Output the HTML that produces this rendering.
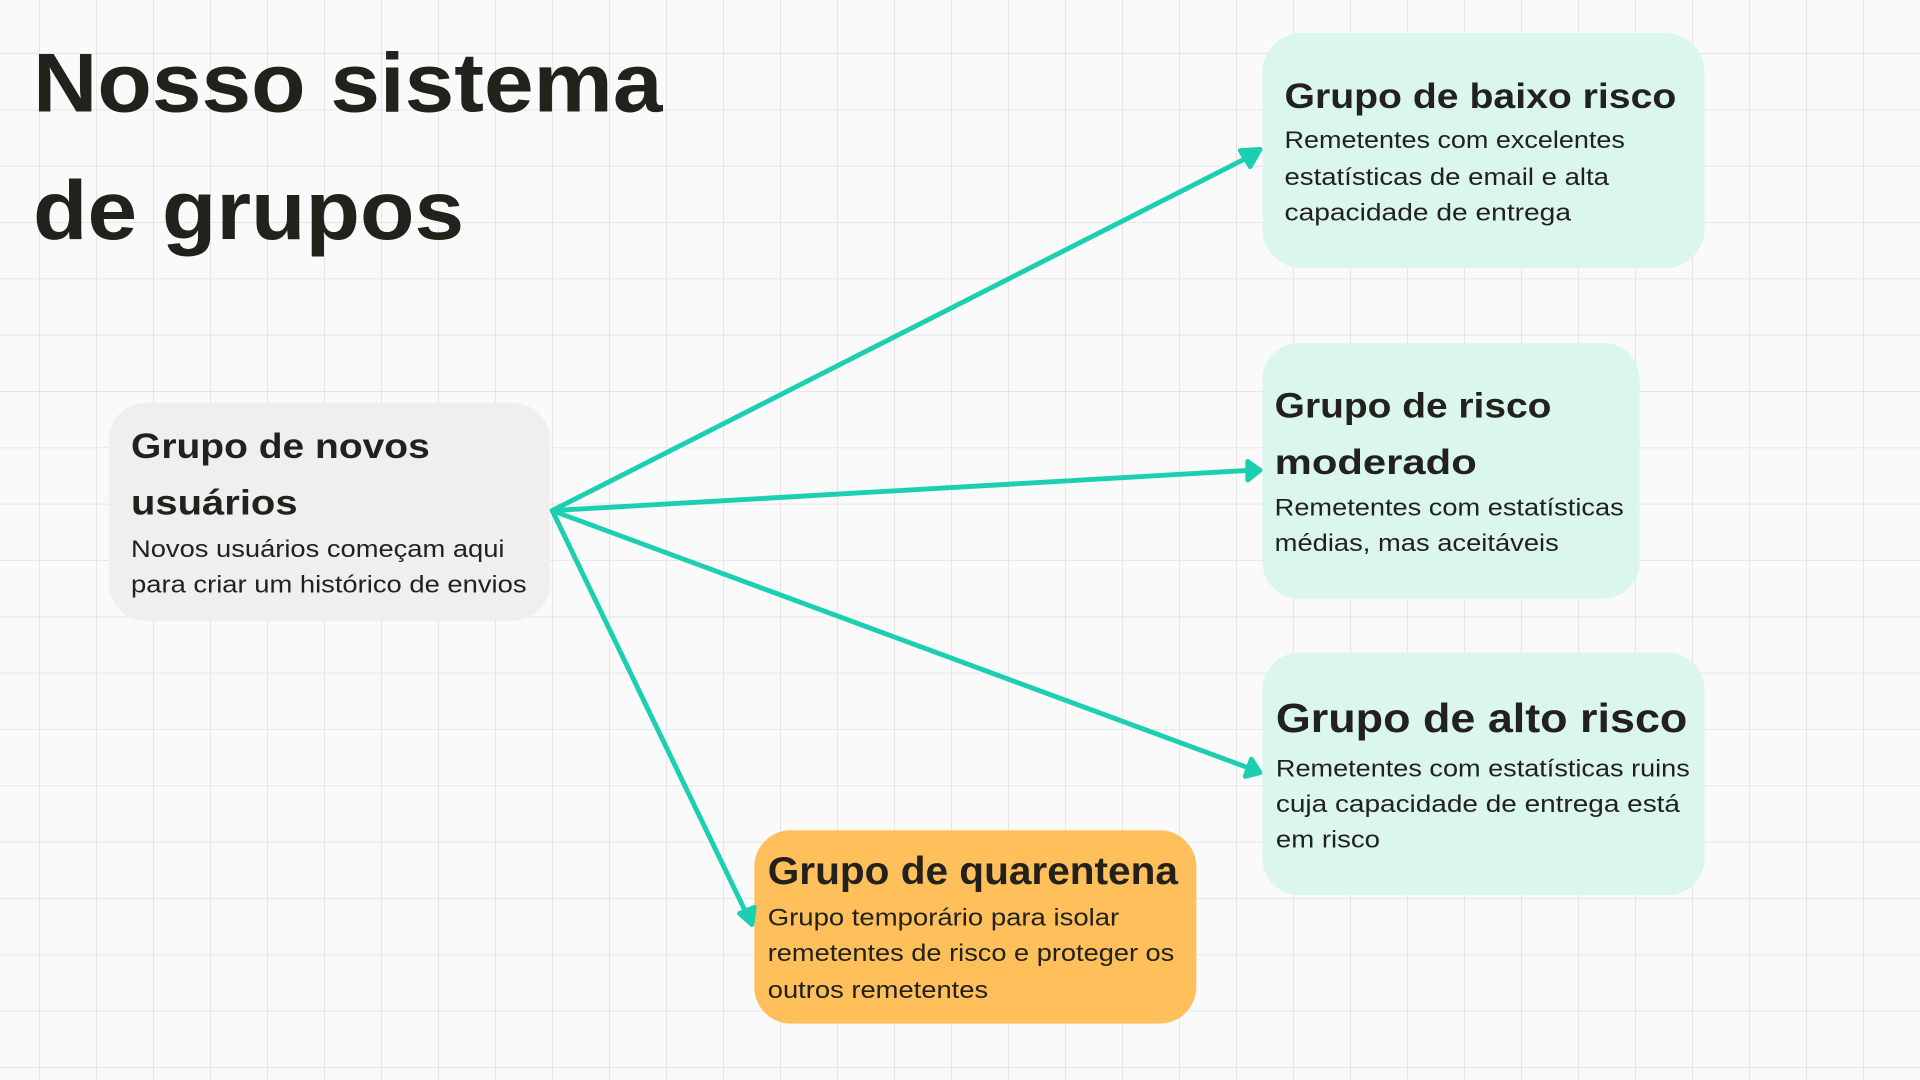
<!DOCTYPE html>
<html><head><meta charset="utf-8"><style>
html,body{margin:0;padding:0;background:#fafafa;}
svg{display:block}
.t{font-family:"Liberation Sans",sans-serif;font-weight:bold;fill:#22211c}
.b{font-family:"Liberation Sans",sans-serif;font-size:20px;fill:#22211c}
</style></head><body>
<svg width="1920" height="1080" viewBox="0 0 1568 882" xmlns="http://www.w3.org/2000/svg">
<defs>
<pattern id="g" x="31.85" y="43.3" width="46.55" height="46.0" patternUnits="userSpaceOnUse">
<path d="M0 0H46.55M0 0V46" stroke="#e6e6e6" stroke-width="1.6" fill="none"/>
</pattern>
</defs>
<rect width="1568" height="882" fill="#fafafa"/>
<rect width="1568" height="882" fill="url(#g)"/>

<text class="t" x="27" y="91" font-size="68" textLength="514" lengthAdjust="spacingAndGlyphs">Nosso sistema</text>
<text class="t" x="27" y="195" font-size="68" textLength="352" lengthAdjust="spacingAndGlyphs">de grupos</text>

<rect x="89" y="329" width="360" height="178" rx="30" fill="#efefef"/>
<text class="t" x="107" y="374" font-size="29" textLength="244" lengthAdjust="spacingAndGlyphs">Grupo de novos</text>
<text class="t" x="107" y="420" font-size="29" textLength="136" lengthAdjust="spacingAndGlyphs">usuários</text>
<text class="b" x="107" y="455" textLength="305" lengthAdjust="spacingAndGlyphs">Novos usuários começam aqui</text>
<text class="b" x="107" y="484" textLength="323" lengthAdjust="spacingAndGlyphs">para criar um histórico de envios</text>

<rect x="1031" y="27" width="361" height="192" rx="32" fill="#daf6ef"/>
<text class="t" x="1049" y="88" font-size="29" textLength="320" lengthAdjust="spacingAndGlyphs">Grupo de baixo risco</text>
<text class="b" x="1049" y="121" textLength="278" lengthAdjust="spacingAndGlyphs">Remetentes com excelentes</text>
<text class="b" x="1049" y="151" textLength="265" lengthAdjust="spacingAndGlyphs">estatísticas de email e alta</text>
<text class="b" x="1049" y="180" textLength="234" lengthAdjust="spacingAndGlyphs">capacidade de entrega</text>

<rect x="1031" y="280" width="308" height="209" rx="30" fill="#daf6ef"/>
<text class="t" x="1041" y="341" font-size="29" textLength="226" lengthAdjust="spacingAndGlyphs">Grupo de risco</text>
<text class="t" x="1041" y="387" font-size="29" textLength="165" lengthAdjust="spacingAndGlyphs">moderado</text>
<text class="b" x="1041" y="421" textLength="285" lengthAdjust="spacingAndGlyphs">Remetentes com estatísticas</text>
<text class="b" x="1041" y="450" textLength="232" lengthAdjust="spacingAndGlyphs">médias, mas aceitáveis</text>

<rect x="1031" y="533" width="361" height="198" rx="30" fill="#daf6ef"/>
<text class="t" x="1042" y="598" font-size="33" textLength="336" lengthAdjust="spacingAndGlyphs">Grupo de alto risco</text>
<text class="b" x="1042" y="634" textLength="338" lengthAdjust="spacingAndGlyphs">Remetentes com estatísticas ruins</text>
<text class="b" x="1042" y="663" textLength="330" lengthAdjust="spacingAndGlyphs">cuja capacidade de entrega está</text>
<text class="b" x="1042" y="692" textLength="85" lengthAdjust="spacingAndGlyphs">em risco</text>

<rect x="616" y="678" width="361" height="158" rx="30" fill="#ffbf5a"/>
<text class="t" x="627" y="722" font-size="32" textLength="335" lengthAdjust="spacingAndGlyphs">Grupo de quarentena</text>
<text class="b" x="627" y="756" textLength="287" lengthAdjust="spacingAndGlyphs">Grupo temporário para isolar</text>
<text class="b" x="627" y="785" textLength="332" lengthAdjust="spacingAndGlyphs">remetentes de risco e proteger os</text>
<text class="b" x="627" y="815" textLength="180" lengthAdjust="spacingAndGlyphs">outros remetentes</text>

<g stroke="#1ccfb0" stroke-width="4" fill="#1ccfb0" stroke-linecap="round" stroke-linejoin="round">
<path d="M451 417L1022 127" fill="none"/>
<path d="M1013 123L1029 122L1021 136Z"/>
<path d="M451 417L1022 384" fill="none"/>
<path d="M1019 377L1029 384L1019 392Z"/>
<path d="M451 417L1022 628" fill="none"/>
<path d="M1022 620L1029 631L1017 634Z"/>
<path d="M451 417L611 749" fill="none"/>
<path d="M604 746L614 755L616 741Z"/>
</g>
</svg>
</body></html>
